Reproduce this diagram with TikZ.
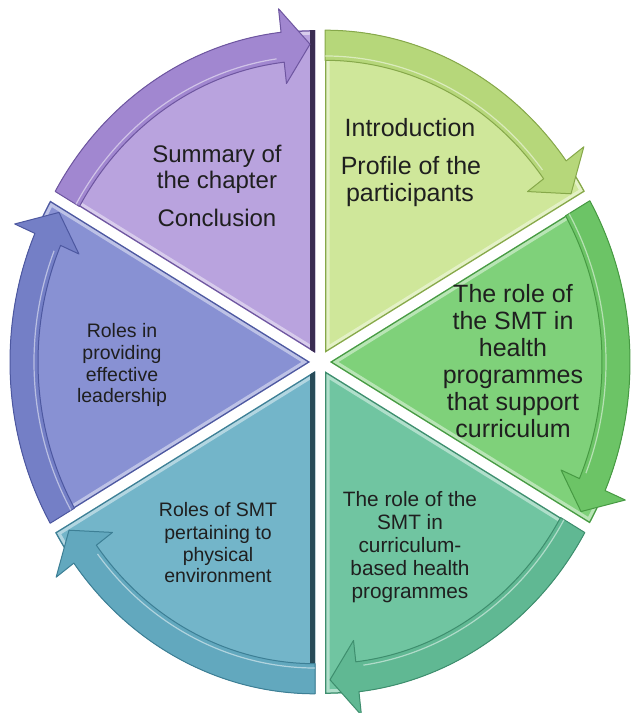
\documentclass[tikz,border=0pt]{standalone}
\usepackage{fontspec}
\setmainfont{Liberation Sans}
\definecolor{sumF}{HTML}{B9A3DE}
\definecolor{sumB}{HTML}{A187D0}
\definecolor{sumD}{HTML}{6E56A0}
\definecolor{intF}{HTML}{CFE79A}
\definecolor{intB}{HTML}{B6D77A}
\definecolor{intD}{HTML}{86A84A}
\definecolor{heaF}{HTML}{7FD17A}
\definecolor{heaB}{HTML}{6CC466}
\definecolor{heaD}{HTML}{479A43}
\definecolor{curF}{HTML}{70C5A1}
\definecolor{curB}{HTML}{60B893}
\definecolor{curD}{HTML}{3E8E6E}
\definecolor{phyF}{HTML}{73B5C9}
\definecolor{phyB}{HTML}{62A8BE}
\definecolor{phyD}{HTML}{3D7F95}
\definecolor{leaF}{HTML}{8891D3}
\definecolor{leaB}{HTML}{747FC6}
\definecolor{leaD}{HTML}{4D58A0}
\definecolor{sideP}{HTML}{3A2C52}
\definecolor{sideT}{HTML}{284B58}
\begin{document}
\begin{tikzpicture}[x=1pt,y=1pt,
  lbl/.style={inner sep=0pt, anchor=base, text=black!88},
  big/.style={lbl, font=\fontsize{25}{30}\selectfont},
  mid/.style={lbl, font=\fontsize{24}{28}\selectfont},
  small/.style={lbl, font=\fontsize{20.8}{23}\selectfont},
  smaller/.style={lbl, font=\fontsize{19.5}{22}\selectfont}]
\useasboundingbox (0,0) rectangle (633,713);
\fill[white] (0,0) rectangle (633,713);
\begin{scope}[shift={(320,351)}, yscale=1.075]
\foreach \a/\F/\B/\D in {30/intF/intB/intD, -30/heaF/heaB/heaD, -90/curF/curB/curD, -150/phyF/phyB/phyD, 150/leaF/leaB/leaD, 90/sumF/sumB/sumD}{
  \begin{scope}[shift={(\a+30:10)}]
    \fill[\F] (0,0) -- (\a:300) arc[start angle=\a, end angle=\a+60, radius=300] -- cycle;
    \begin{scope}
      \clip (0,0) -- (\a:300) arc[start angle=\a, end angle=\a+60, radius=300] -- cycle;
      \draw[white, opacity=0.45, line width=9] (0,0) -- (\a:300) arc[start angle=\a, end angle=\a+60, radius=300] -- cycle;
      \draw[\D, line width=2.5] (0,0) -- (\a:300) arc[start angle=\a, end angle=\a+60, radius=300] -- cycle;
      \ifnum\a=90 \draw[sideP, line width=11] (0,0) -- (90:300); \fi
      \ifnum\a=-150 \draw[sideT, line width=11] (0,0) -- (-90:300); \fi
    \end{scope}
    \filldraw[fill=\B, draw=\D, line width=1, line join=round]
      (\a+60:300) arc[start angle=\a+60, end angle=\a+6.5, radius=300]
      -- (\a+6.5:322) -- (\a+1:287) -- (\a+6.5:252) -- (\a+6.5:272)
      arc[start angle=\a+6.5, end angle=\a+60, radius=272] -- cycle;
    \draw[white, opacity=0.5, line width=1.2] (\a+60:276) arc[start angle=\a+60, end angle=\a+8, radius=276];
  \end{scope}
}
\end{scope}
% Introduction
\node[big] (i1) at (410,576) {Introduction};
\node[big] (i2) at (411,538) {Profile of the};
\node[big] (i3) at (410,511) {participants};
% Summary
\node[mid] (s1) at (217,550) {Summary of};
\node[mid] (s2) at (217,524) {the chapter};
\node[mid] (s3) at (217,486) {Conclusion};
% health programmes
\node[big] (h1) at (513,410) {The role of};
\node[big] (h2) at (513,383) {the SMT in};
\node[big] (h3) at (513,356) {health};
\node[big] (h4) at (513,329) {programmes};
\node[big] (h5) at (513,302) {that support};
\node[big] (h6) at (513,275) {curriculum};
% curriculum-based
\node[small] (c1) at (410,206) {The role of the};
\node[small] (c2) at (410,183) {SMT in};
\node[small] (c3) at (410,160) {curriculum-};
\node[small] (c4) at (410,137) {based health};
\node[small] (c5) at (410,114) {programmes};
% physical environment
\node[smaller] (p1) at (218,196) {Roles of SMT};
\node[smaller] (p2) at (218,173) {pertaining to};
\node[smaller] (p3) at (218,151) {physical};
\node[smaller] (p4) at (218,130) {environment};
% leadership
\node[smaller] (l1) at (122,375) {Roles in};
\node[smaller] (l2) at (122,353) {providing};
\node[smaller] (l3) at (122,331) {effective};
\node[smaller] (l4) at (122,310) {leadership};
\end{tikzpicture}
\end{document}
